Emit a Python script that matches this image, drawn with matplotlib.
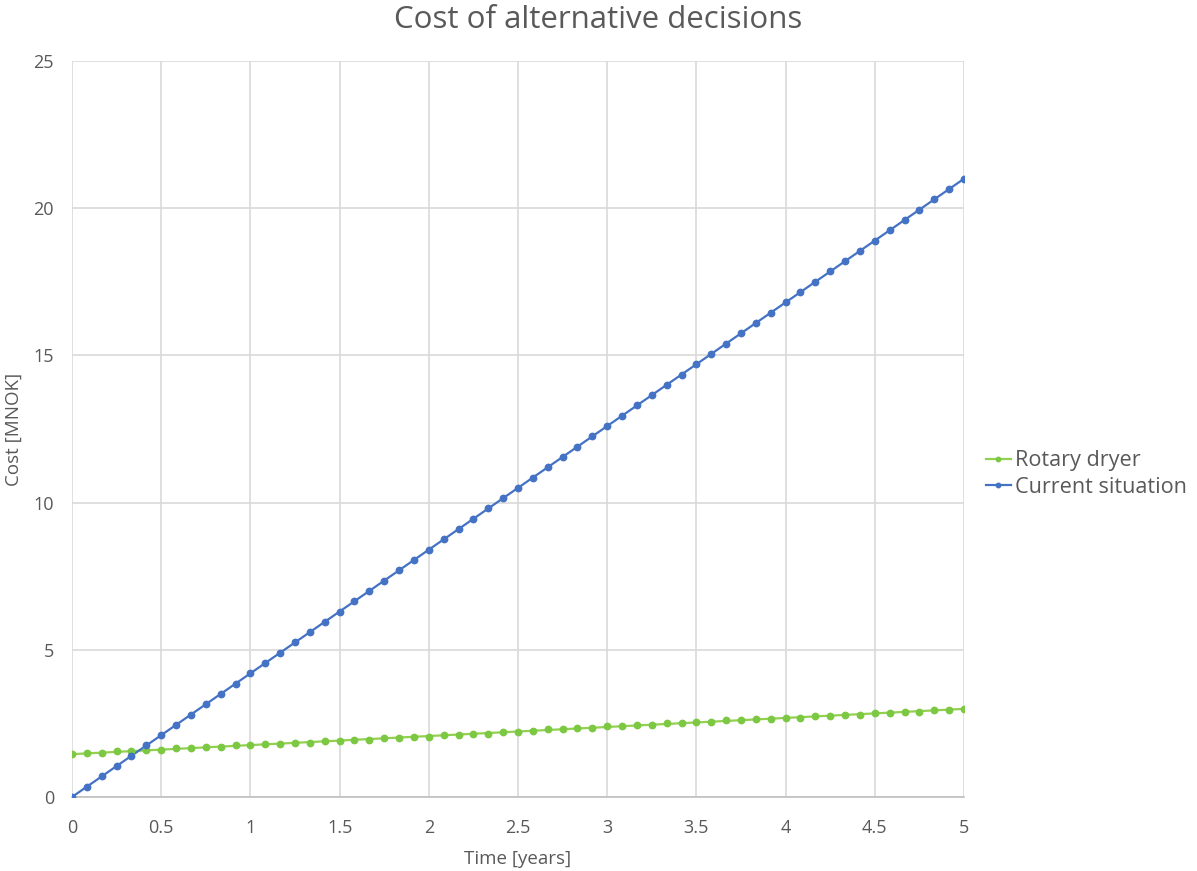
import numpy as np
import matplotlib
matplotlib.use("Agg")
import matplotlib.pyplot as plt
from matplotlib.lines import Line2D

plt.rcParams['font.family'] = ['Open Sans', 'DejaVu Sans']

# Time in years (monthly points)
time_years = [i / 12 for i in range(61)]

rotary_dryer = [1.45, 1.50, 1.50, 1.55, 1.55, 1.60, 1.60, 1.65, 1.65, 1.70,
                1.70, 1.75, 1.75, 1.80, 1.80, 1.85, 1.85, 1.90, 1.90, 1.95,
                1.95, 2.00, 2.00, 2.05, 2.05, 2.10, 2.10, 2.15, 2.15, 2.20,
                2.20, 2.25, 2.30, 2.30, 2.35, 2.35, 2.40, 2.40, 2.45, 2.45,
                2.50, 2.50, 2.55, 2.55, 2.60, 2.60, 2.65, 2.65, 2.70, 2.70,
                2.75, 2.75, 2.80, 2.80, 2.85, 2.85, 2.90, 2.90, 2.95, 2.95,
                3.00]

current_situation = [0.00, 0.35, 0.70, 1.05, 1.40, 1.75, 2.10, 2.45, 2.80, 3.15,
                     3.50, 3.85, 4.20, 4.55, 4.90, 5.25, 5.60, 5.95, 6.30, 6.65,
                     7.00, 7.35, 7.70, 8.05, 8.40, 8.75, 9.10, 9.45, 9.80, 10.15,
                     10.50, 10.85, 11.20, 11.55, 11.90, 12.25, 12.60, 12.95, 13.30, 13.65,
                     14.00, 14.35, 14.70, 15.05, 15.40, 15.75, 16.10, 16.45, 16.80, 17.15,
                     17.50, 17.85, 18.20, 18.55, 18.90, 19.25, 19.60, 19.95, 20.30, 20.65,
                     21.00]

x_ticks = [0, 0.5, 1, 1.5, 2, 2.5, 3, 3.5, 4, 4.5, 5]
x_tick_labels = ["0", "0.5", "1", "1.5", "2", "2.5", "3", "3.5", "4", "4.5", "5"]
y_ticks = [0, 5, 10, 15, 20, 25]

green = "#7CC843"
green_line = "#92D050"
blue = "#4472C4"
gray_text = "#595959"
grid_col = "#D9D9D9"

fig = plt.figure(figsize=(11.97, 8.71), dpi=100)
ax = fig.add_axes([72 / 1197, 1 - 797 / 871, (964 - 72) / 1197, (797 - 61) / 871])

t = np.array(time_years)
for vals, lc, mc in [(rotary_dryer, green_line, green),
                     (current_situation, blue, blue)]:
    v = np.array(vals)
    coef = np.polyfit(t, v, 1)
    ax.plot(t, np.polyval(coef, t), color=lc, lw=1.6, zorder=2)
    ax.plot(t, v, linestyle="none", marker="o", markersize=4.6, color=mc, zorder=3)

ax.set_xlim(0, 5)
ax.set_ylim(0, 25)
ax.set_xticks(x_ticks)
ax.set_xticklabels(x_tick_labels)
ax.set_yticks(y_ticks)
ax.grid(True, color=grid_col, lw=1.2)
ax.set_axisbelow(True)
for s in ["top", "right", "left"]:
    ax.spines[s].set_visible(False)
ax.spines["bottom"].set_color("#BFBFBF")
ax.spines["bottom"].set_linewidth(1.2)
ax.tick_params(axis="x", length=0, labelsize=13, colors=gray_text, pad=16)
ax.tick_params(axis="y", length=0, labelsize=13, colors=gray_text, pad=13)

ax.set_xlabel("Time [years]", fontsize=13.5, color=gray_text, labelpad=9)
ax.set_ylabel("Cost [MNOK]", fontsize=13.5, color=gray_text, labelpad=8)
fig.text(0.5, 1 - 20 / 871, "Cost of alternative decisions", ha="center", va="center",
         fontsize=22.5, color=gray_text)

handles = [Line2D([0], [0], color=green_line, lw=1.6, marker="o", markersize=3.2,
                  markerfacecolor=green, markeredgecolor=green),
           Line2D([0], [0], color=blue, lw=1.6, marker="o", markersize=3.2,
                  markerfacecolor=blue, markeredgecolor=blue)]
fig.legend(handles, ["Rotary dryer", "Current situation"], loc="center left",
           bbox_to_anchor=(986 / 1197, 1 - 474 / 871), frameon=False,
           fontsize=15.6, labelcolor=gray_text, handlelength=1.15, handletextpad=0.2,
           labelspacing=0.25, borderaxespad=0, borderpad=0)

fig.savefig("out.png", dpi=100)
